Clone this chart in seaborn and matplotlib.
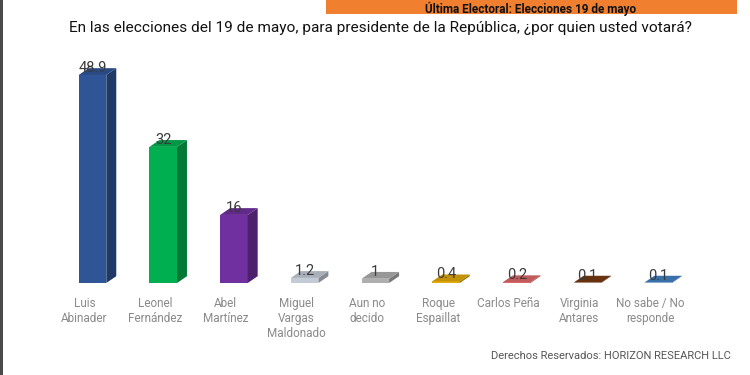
import matplotlib
matplotlib.use("Agg")
import matplotlib.pyplot as plt
import matplotlib.transforms as mtransforms
from matplotlib.patches import Polygon, Rectangle
from matplotlib.colors import to_rgb
import seaborn as sns
import pandas as pd

# ---- data ----
categories = ["Luis\nAbinader", "Leonel\nFernández", "Abel\nMartínez",
              "Miguel\nVargas\nMaldonado", "Aun no\ndecido", "Roque\nEspaillat",
              "Carlos Peña", "Virginia\nAntares", "No sabe / No\nresponde"]
values = [48.9, 32, 16, 1.2, 1, 0.4, 0.2, 0.1, 0.1]
value_labels = ["48.9", "32", "16", "1.2", "1", "0.4", "0.2", "0.1", "0.1"]
colors = ["#2F5597", "#00B050", "#7030A0", "#C3CCD6", "#AFAFAF",
          "#E3AA0A", "#E06A6A", "#7A3A10", "#4282C6"]
title = "En las elecciones del 19 de mayo, para presidente de la República, ¿por quien usted votará?"
banner = "Última Electoral: Elecciones 19 de mayo"
footer = "Derechos Reservados: HORIZON RESEARCH LLC"

sns.set_style("white")
plt.rcParams["font.family"] = ["Roboto", "DejaVu Sans"]

W, H = 750, 375
fig = plt.figure(figsize=(7.5, 3.75), dpi=100)
fig.patch.set_facecolor("white")

# axes placed in pixel terms
left_px, right_px = 57.15, 693.5
base_px, top_px = 283, 40
ax = fig.add_axes([left_px / W, (H - base_px) / H,
                   (right_px - left_px) / W, (base_px - top_px) / H])

df = pd.DataFrame({"cat": categories, "val": values})
sns.barplot(data=df, x="cat", y="val", hue="cat", palette=colors,
            width=0.39, legend=False, ax=ax, saturation=1, linewidth=0)
ax.set_xlim(-0.5, 8.5)
ax.set_ylim(0, (base_px - top_px) / 4.254)

dx, dy = 0.141, 1.6


def shade(c, f):
    r, g, b = to_rgb(c)
    return (r * f, g * f, b * f)


for i, p in enumerate(list(ax.patches)):
    x0, w, h = p.get_x(), p.get_width(), p.get_height()
    c = colors[i]
    side = Polygon([(x0 + w, 0), (x0 + w + dx, dy), (x0 + w + dx, h + dy), (x0 + w, h)],
                   closed=True, facecolor=shade(c, 0.68), edgecolor="none", clip_on=False)
    top = Polygon([(x0, h), (x0 + dx, h + dy), (x0 + w + dx, h + dy), (x0 + w, h)],
                  closed=True, facecolor=shade(c, 0.86), edgecolor="none", clip_on=False)
    ax.add_patch(side)
    ax.add_patch(top)
    ax.annotate(value_labels[i], (x0 + w / 2, h), xytext=(0, 3),
                textcoords="offset pixels", ha="center", va="baseline",
                fontsize=10.5, color="#3a3a3a", annotation_clip=False)

for s in ax.spines.values():
    s.set_visible(False)
ax.set_yticks([])
ax.set_xlabel("")
ax.set_ylabel("")
ax.tick_params(axis="x", length=0, pad=10, labelsize=8.5, labelcolor="#8a8a8a")
ax.set_xticks(range(len(categories)))
ax.set_xticklabels(categories, linespacing=1.2)
offset = mtransforms.ScaledTranslation(-8 / 100, 0, fig.dpi_scale_trans)
for lab in ax.get_xticklabels():
    lab.set_transform(lab.get_transform() + offset)

# title
fig.text(380 / W, 1 - 28 / H, title, ha="center", va="center",
         fontsize=11.1, color="#111111")

# orange banner at top
fig.patches.append(Rectangle((326 / W, 1 - 14 / H), (737 - 326) / W, 14 / H,
                             transform=fig.transFigure, facecolor="#F08030",
                             edgecolor="none"))
fig.text(531 / W, 1 - 1.5 / H, banner, ha="center", va="top",
         fontsize=8.5, fontweight="bold", color="#111111")

# footer
fig.text(731 / W, 1 - 356 / H, footer, ha="right", va="center",
         fontsize=8, color="#555555")

# left border
fig.patches.append(Rectangle((0, 0), 3 / W, 1, transform=fig.transFigure,
                             facecolor="#4a4a4a", edgecolor="none"))

fig.savefig("out.png", dpi=100, facecolor="white")
